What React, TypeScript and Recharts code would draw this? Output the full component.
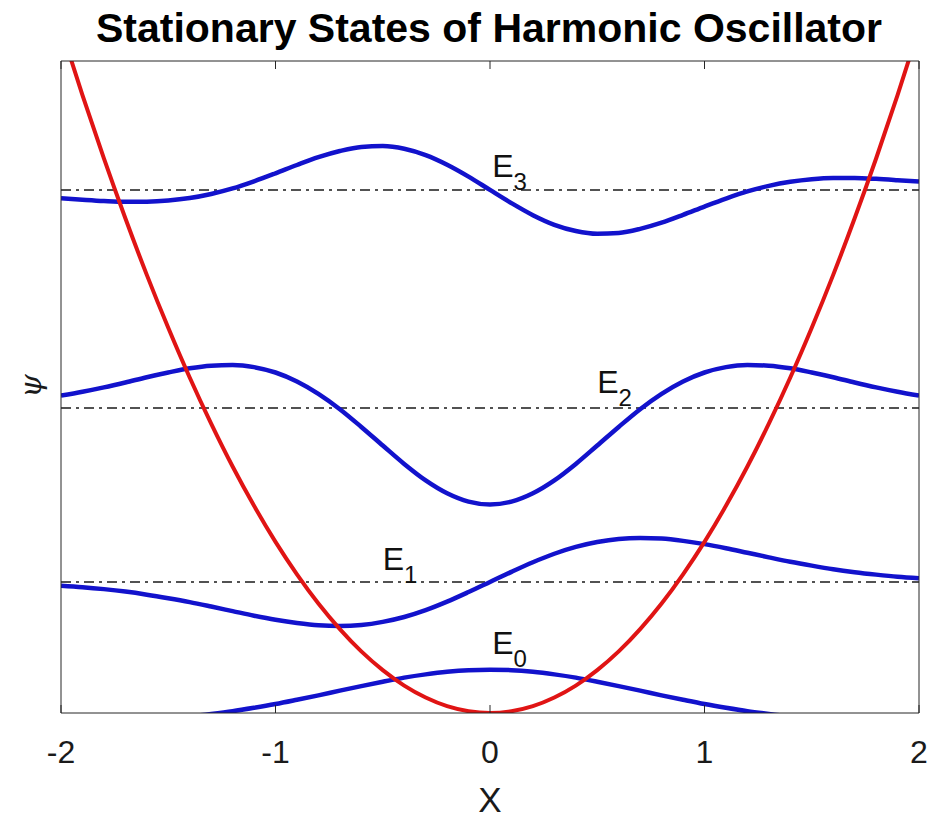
import React from 'react';
import { LineChart, Line, XAxis, YAxis, ReferenceLine, ReferenceDot } from 'recharts';

// x grid shared by every curve
const xs = [
  -2.0, -1.9, -1.8, -1.7, -1.6, -1.5, -1.4, -1.3, -1.2, -1.1, -1.0,
  -0.9, -0.8, -0.7, -0.6, -0.5, -0.4, -0.3, -0.2, -0.1, 0.0,
  0.1, 0.2, 0.3, 0.4, 0.5, 0.6, 0.7, 0.8, 0.9, 1.0,
  1.1, 1.2, 1.3, 1.4, 1.5, 1.6, 1.7, 1.8, 1.9, 2.0,
];

// potential well
const potential = [
  4.2, 3.791, 3.402, 3.035, 2.688, 2.363, 2.058, 1.775, 1.512, 1.271, 1.05,
  0.851, 0.672, 0.515, 0.378, 0.263, 0.168, 0.095, 0.042, 0.011, 0,
  0.011, 0.042, 0.095, 0.168, 0.263, 0.378, 0.515, 0.672, 0.851, 1.05,
  1.271, 1.512, 1.775, 2.058, 2.363, 2.688, 3.035, 3.402, 3.791, 4.2,
];

// wavefunctions, each drawn on top of its own energy level
const psi0 = [
  -0.062, -0.059, -0.055, -0.049, -0.042, -0.033, -0.021, -0.006, 0.011, 0.032, 0.055,
  0.081, 0.108, 0.137, 0.165, 0.192, 0.217, 0.237, 0.253, 0.263, 0.266,
  0.263, 0.253, 0.237, 0.217, 0.192, 0.165, 0.137, 0.108, 0.081, 0.055,
  0.032, 0.011, -0.006, -0.021, -0.033, -0.042, -0.049, -0.055, -0.059, -0.062,
];
const psi1 = [
  0.781, 0.772, 0.76, 0.745, 0.726, 0.704, 0.68, 0.653, 0.625, 0.597, 0.572,
  0.552, 0.538, 0.534, 0.54, 0.559, 0.589, 0.631, 0.683, 0.742, 0.804,
  0.866, 0.925, 0.977, 1.019, 1.049, 1.068, 1.074, 1.07, 1.056, 1.036,
  1.011, 0.983, 0.955, 0.928, 0.904, 0.882, 0.864, 0.849, 0.836, 0.827,
];
const psi2 = [
  1.947, 1.971, 1.998, 2.028, 2.06, 2.089, 2.115, 2.131, 2.135, 2.122, 2.089,
  2.034, 1.958, 1.864, 1.755, 1.641, 1.528, 1.427, 1.348, 1.297, 1.279,
  1.297, 1.348, 1.427, 1.528, 1.641, 1.755, 1.864, 1.958, 2.034, 2.089,
  2.122, 2.135, 2.131, 2.115, 2.089, 2.06, 2.028, 1.998, 1.971, 1.947,
];
const psi3 = [
  3.158, 3.149, 3.141, 3.136, 3.137, 3.144, 3.159, 3.184, 3.218, 3.262, 3.311,
  3.362, 3.41, 3.448, 3.473, 3.478, 3.462, 3.423, 3.364, 3.291, 3.209,
  3.128, 3.054, 2.995, 2.957, 2.94, 2.945, 2.97, 3.008, 3.056, 3.107,
  3.156, 3.2, 3.234, 3.259, 3.275, 3.282, 3.282, 3.277, 3.269, 3.26,
];

const levels = [-0.068, 0.804, 1.871, 3.209];
const levelNames = ['0', '1', '2', '3'];
// where each E_n label sits (x, y in plot units)
const labelX = [0.01, -0.5, 0.5, 0.01];
const labelY = [0.36, 0.877, 1.963, 3.29];

const xTicks = [-2, -1, 0, 1, 2];

const rows = xs.map((x, i) => ({
  x,
  V: potential[i],
  p0: psi0[i],
  p1: psi1[i],
  p2: psi2[i],
  p3: psi3[i],
}));

const FONT = '"Liberation Sans", Arial, Helvetica, sans-serif';
const AXIS = '#262626';
const BLUE = '#1212cc';
const RED = '#e01414';
const PLOT_H = 652;

// bottom tick: inward mark on both the bottom and the top edge of the box, plus the label
const BottomTick = (props: any) => {
  const { x, y, payload } = props;
  return (
    <g>
      <line x1={x} x2={x} y1={y} y2={y - 8} stroke={AXIS} strokeWidth={1} />
      <line x1={x} x2={x} y1={y - PLOT_H} y2={y - PLOT_H + 8} stroke={AXIS} strokeWidth={1} />
      <text x={x} y={y + 50} textAnchor="middle" fontSize={32} fontFamily={FONT} fill="#1a1a1a">
        {payload.value}
      </text>
    </g>
  );
};

const LevelLabel = (n: string) => (props: any) => (
  <text x={props.cx} y={props.cy} fontSize={32} fontFamily={FONT} fill="#111">
    E
    <tspan dy={13} fontSize={24}>
      {n}
    </tspan>
  </text>
);

export default function App() {
  const waves = ['p0', 'p1', 'p2', 'p3'];
  return (
    <div style={{ position: 'absolute', left: 0, top: 0, width: 931, height: 818, background: '#fff' }}>
      <LineChart width={931} height={818} data={rows} margin={{ top: 60, right: 11, bottom: 45, left: 60 }}>
        <XAxis
          dataKey="x"
          type="number"
          domain={[-2, 2]}
          ticks={xTicks}
          interval={0}
          height={60}
          tickSize={0}
          tickMargin={0}
          tickLine={false}
          tick={<BottomTick />}
          axisLine={{ stroke: AXIS }}
          allowDataOverflow
        />
        <XAxis
          xAxisId="top"
          orientation="top"
          dataKey="x"
          type="number"
          domain={[-2, 2]}
          height={1}
          tick={false}
          tickLine={false}
          axisLine={{ stroke: AXIS }}
        />
        <YAxis type="number" domain={[0, 4]} width={1} tick={false} tickLine={false} axisLine={{ stroke: AXIS }} allowDataOverflow />
        <YAxis yAxisId="right" orientation="right" type="number" domain={[0, 4]} width={1} tick={false} tickLine={false} axisLine={{ stroke: AXIS }} />

        {levels.map((e, i) => (
          <ReferenceLine key={'lv' + i} y={e} stroke="#1a1a1a" strokeWidth={1.4} strokeDasharray="10 5 3 5" ifOverflow="discard" />
        ))}

        {waves.map((k) => (
          <Line key={k} dataKey={k} type="monotone" stroke={BLUE} strokeWidth={4.5} dot={false} activeDot={false} isAnimationActive={false} />
        ))}
        <Line dataKey="V" type="monotone" stroke={RED} strokeWidth={4} dot={false} activeDot={false} isAnimationActive={false} />

        {levelNames.map((n, i) => (
          <ReferenceDot key={'lb' + i} x={labelX[i]} y={labelY[i]} r={0} ifOverflow="visible" shape={LevelLabel(n)} />
        ))}
      </LineChart>

      <svg width={931} height={818} style={{ position: 'absolute', left: 0, top: 0, pointerEvents: 'none' }}>
        <text x={489} y={42} textAnchor="middle" fontSize={41} fontWeight="bold" fontFamily={FONT} fill="#000">
          Stationary States of Harmonic Oscillator
        </text>
        <text x={490} y={812} textAnchor="middle" fontSize={35} fontFamily={FONT} fill="#1a1a1a">
          X
        </text>
        <text
          x={30}
          y={386}
          textAnchor="middle"
          dominantBaseline="central"
          fontSize={30}
          fontStyle="italic"
          fontFamily='"DejaVu Serif", serif'
          fill="#1a1a1a"
          transform="rotate(-90 30 386)"
        >
          ψ
        </text>
      </svg>
    </div>
  );
}
